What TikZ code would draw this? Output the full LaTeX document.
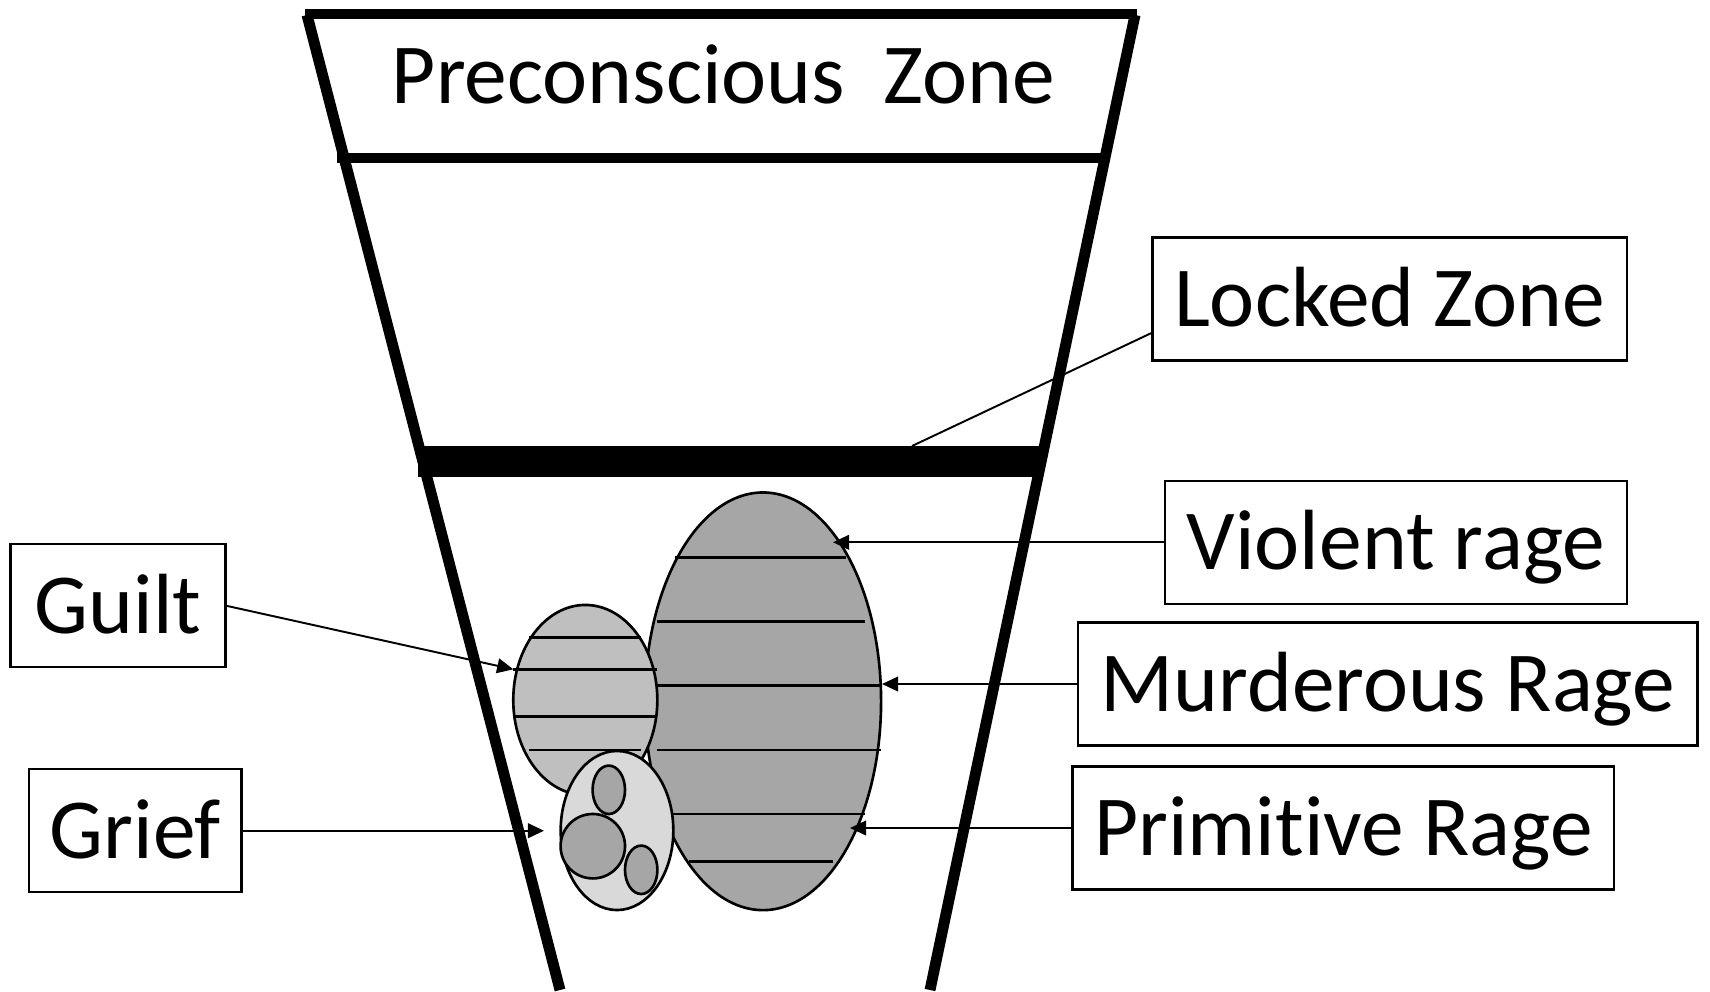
\documentclass[tikz,border=0pt]{standalone}
\usepackage{fontspec}
\setmainfont{Carlito}[Ligatures=NoCommon]
\usetikzlibrary{arrows.meta}
\definecolor{rage}{HTML}{A6A6A6}
\definecolor{guiltfill}{HTML}{BFBFBF}
\definecolor{grieffill}{HTML}{D9D9D9}

\begin{document}
\begin{tikzpicture}[x=0.01cm,y=-0.01cm]
\tikzstyle{every node}+=[inner sep=0pt]
\tikzstyle{zonetext}=[font=\fontsize{24.3}{29}\selectfont, text height=15.6pt, text depth=0pt]
\tikzstyle{labelbox}=[zonetext, draw=black, line width=0.65pt, minimum height=1.23cm]
\tikzstyle{funnel}=[black, line width=3.1pt]
\tikzstyle{pointer}=[black, line width=0.55pt, -{Triangle[length=4.6pt,width=4.2pt]}]
\tikzstyle{blob}=[draw=black, line width=0.75pt]
\tikzstyle{hatch}=[black, line width=0.8pt]
\useasboundingbox (0,0) rectangle (1710,991);
\draw [funnel] (305,14) -- (1137,14);
\draw [funnel] (307,15) -- (560,990);
\draw [funnel] (1135,15) -- (930,990);
\draw [funnel] (337,158) -- (1102,158);
\draw [black, line width=8.8pt] (418,461.5) -- (1041,461.5);
\node [zonetext] (pre) at (723.5,76.3) {Preconscious\ \ Zone};
\draw [blob, fill=rage] (763,701.3) ellipse [x radius=1.18cm, y radius=2.087cm];
\draw [hatch] (675,557.3) -- (846,557.3);
\draw [hatch] (656.7,621.7) -- (865,621.7);
\draw [hatch] (656.7,685.7) -- (881,685.7);
\draw [hatch] (656.7,750) -- (881,750);
\draw [hatch] (671.7,814) -- (865,814);
\draw [hatch] (689.3,861.7) -- (832.7,861.7);
\draw [blob, fill=guiltfill] (585.3,700) ellipse [x radius=0.72cm, y radius=0.95cm];
\draw [hatch] (529,637.7) -- (640.7,637.7);
\draw [hatch] (513.3,669.3) -- (656.7,669.3);
\draw [hatch] (513.3,716.7) -- (655,716.7);
\draw [hatch] (529,750) -- (640.7,750);
\draw [blob, fill=grieffill] (617,830.5) ellipse [x radius=0.563cm, y radius=0.795cm];
\draw [blob, fill=rage] (608.8,789.8) ellipse [x radius=0.162cm, y radius=0.242cm];
\draw [blob, fill=rage] (592.8,846.2) circle [radius=0.322cm];
\draw [blob, fill=rage] (641.2,869.8) ellipse [x radius=0.162cm, y radius=0.242cm];
\node [labelbox, minimum width=4.74cm] (locked) at (1389.7,299) {Locked Zone};
\node [labelbox, minimum width=4.614cm] (violent) at (1396,542.3) {Violent rage};
\node [labelbox, minimum width=6.19cm] (murder) at (1387.8,684) {Murderous Rage};
\node [labelbox, minimum width=5.413cm] (primitive) at (1343.3,828) {Primitive Rage};
\node [labelbox, minimum width=2.146cm] (guilt) at (118,605.8) {Guilt};
\node [labelbox, minimum width=2.12cm] (grief) at (135.3,830.7) {Grief};
\coordinate (barpt) at (912,446);
\coordinate (violentpt) at (833,542.3);
\coordinate (murderpt) at (882,684);
\coordinate (primitivept) at (850,828);
\coordinate (guiltpt) at (513.3,669.3);
\coordinate (griefpt) at (544,830.7);
\draw [black, line width=0.55pt] (barpt) -- ([yshift=-0.34cm]locked.west);
\draw [pointer] (violent.west) -- (violentpt);
\draw [pointer] (murder.west) -- (murderpt);
\draw [pointer] (primitive.west) -- (primitivept);
\draw [pointer] (guilt.east) -- (guiltpt);
\draw [pointer] (grief.east) -- (griefpt);
\end{tikzpicture}
\end{document}
